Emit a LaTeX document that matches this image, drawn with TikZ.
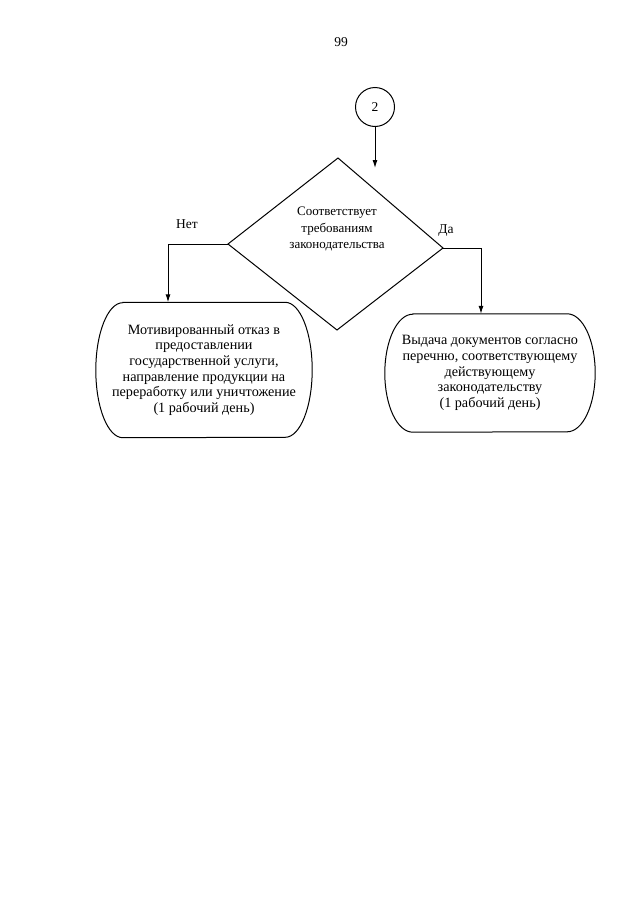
\documentclass[tikz,border=0pt]{standalone}
\usepackage{fontspec}
\setmainfont{Liberation Serif}
\usetikzlibrary{arrows.meta}
\begin{document}
\begin{tikzpicture}[x=1pt,y=-1pt,
  every node/.style={font=\fontsize{13.5}{15.6}\selectfont, inner sep=0pt},
  txt/.style={align=center},
  boxtxt/.style={align=center,font=\fontsize{14.2}{15.6}\selectfont},
  dtxt/.style={align=center,font=\fontsize{13}{16.5}\selectfont},
  line/.style={line width=1pt},
  arr/.style={line width=1pt,-{Latex[length=8pt,width=5pt]}},
  conn/.style={circle,draw,line width=1pt,minimum size=39pt}]
\useasboundingbox (0,0) rectangle (640,905);
\fill[white] (0,0) rectangle (640,905);
\node (pg) at (341,42) {99};
% connector circle
\node[conn] (C) at (375,107) {2};
\coordinate (a) at (375,168);
\draw[arr] (C.south) -- (a);
% decision diamond
\coordinate (Dt) at (338,158);
\coordinate (Dl) at (228,244);
\coordinate (Db) at (337,330);
\coordinate (Dr) at (443,248);
\draw[line] (Dt) -- (Dr) -- (Db) -- (Dl) -- cycle;
\node[dtxt] (D) at (337,229) {Соответствует\\требованиям\\законодательства};
\node (no) at (187,224) {Нет};
\node (yes) at (446,231) {Да};
% left box
\node[boxtxt,minimum width=216pt,minimum height=135pt] (L) at (204,370)
  {Мотивированный отказ в\\предоставлении\\государственной услуги,\\направление продукции на\\переработку или уничтожение\\(1 рабочий день)};
\draw[line] ([xshift=27pt]L.north west) -- ([xshift=-27pt]L.north east)
  arc[start angle=90,end angle=-90,x radius=27pt,y radius=67.5pt]
  -- ([xshift=27pt]L.south west)
  arc[start angle=270,end angle=90,x radius=27pt,y radius=67.5pt] -- cycle;
% right box
\node[boxtxt,minimum width=210pt,minimum height=118pt] (R) at (490,373)
  {Выдача документов согласно\\перечню, соответствующему\\действующему\\законодательству\\(1 рабочий день)};
\draw[line] ([xshift=28pt]R.north west) -- ([xshift=-28pt]R.north east)
  arc[start angle=90,end angle=-90,x radius=28pt,y radius=59pt]
  -- ([xshift=28pt]R.south west)
  arc[start angle=270,end angle=90,x radius=28pt,y radius=59pt] -- cycle;
% branches
\coordinate (lx) at (168,0);
\coordinate (rx) at (481,0);
\coordinate (lt) at (lx |- L.north);
\coordinate (rt) at (rx |- R.north);
\draw[arr] (Dl) -| (lt);
\draw[arr] (Dr) -| (rt);
\end{tikzpicture}
\end{document}
